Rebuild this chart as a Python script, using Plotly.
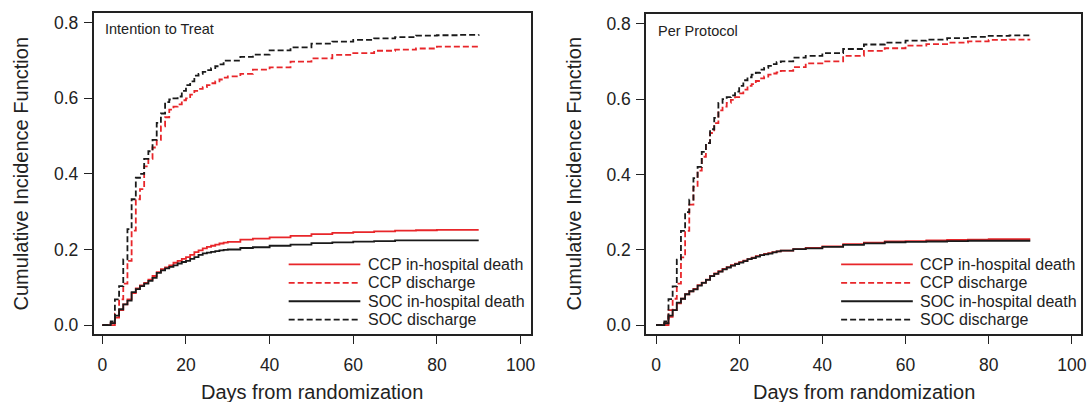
import plotly.graph_objects as go

# ---------------- data ----------------
days = [0, 1, 2, 3, 4, 5, 6, 7, 8, 9, 10, 11, 12, 13, 14, 15, 16, 17, 18, 19, 20,
        21, 22, 23, 24, 25, 26, 27, 28, 29, 30, 33, 36, 40, 45, 50, 55, 60, 65,
        70, 75, 80, 85, 90]

# Intention to Treat
itt_ccp_death = [0, 0, 0.005, 0.02, 0.04, 0.055, 0.068, 0.085, 0.097, 0.105, 0.112,
                 0.12, 0.13, 0.14, 0.148, 0.153, 0.158, 0.165, 0.17, 0.175, 0.18,
                 0.186, 0.193, 0.198, 0.203, 0.207, 0.21, 0.213, 0.216, 0.218, 0.22,
                 0.226, 0.229, 0.232, 0.236, 0.241, 0.244, 0.246, 0.248, 0.25, 0.251,
                 0.252, 0.252, 0.252]
itt_ccp_discharge = [0, 0, 0, 0.03, 0.068, 0.11, 0.17, 0.25, 0.333, 0.36, 0.42,
                     0.44, 0.47, 0.49, 0.526, 0.55, 0.57, 0.578, 0.584, 0.595, 0.60,
                     0.61, 0.62, 0.625, 0.63, 0.635, 0.64, 0.645, 0.65, 0.655, 0.658,
                     0.665, 0.676, 0.682, 0.697, 0.706, 0.715, 0.72, 0.726, 0.729,
                     0.732, 0.737, 0.737, 0.737]
itt_soc_death = [0, 0, 0.005, 0.025, 0.042, 0.055, 0.065, 0.087, 0.095, 0.103, 0.11,
                 0.117, 0.125, 0.138, 0.145, 0.15, 0.154, 0.158, 0.163, 0.167, 0.17,
                 0.175, 0.18, 0.186, 0.19, 0.192, 0.194, 0.196, 0.198, 0.199, 0.2,
                 0.204, 0.206, 0.21, 0.213, 0.217, 0.219, 0.221, 0.222, 0.224, 0.224,
                 0.224, 0.224, 0.224]
itt_soc_discharge = [0, 0, 0.01, 0.068, 0.103, 0.174, 0.254, 0.333, 0.39, 0.40, 0.44,
                     0.46, 0.49, 0.535, 0.56, 0.59, 0.597, 0.60, 0.605, 0.62, 0.635,
                     0.645, 0.66, 0.665, 0.67, 0.675, 0.68, 0.685, 0.69, 0.70, 0.70,
                     0.71, 0.716, 0.727, 0.735, 0.745, 0.75, 0.755, 0.759, 0.762,
                     0.766, 0.767, 0.768, 0.769]

# Per Protocol
pp_ccp_death = [0, 0, 0.005, 0.022, 0.04, 0.058, 0.07, 0.082, 0.09, 0.096, 0.106,
                0.113, 0.121, 0.131, 0.137, 0.143, 0.149, 0.154, 0.159, 0.163, 0.167,
                0.171, 0.175, 0.179, 0.183, 0.186, 0.189, 0.191, 0.194, 0.196, 0.198,
                0.202, 0.205, 0.209, 0.215, 0.219, 0.222, 0.223, 0.225, 0.226, 0.227,
                0.228, 0.228, 0.228]
pp_ccp_discharge = [0, 0, 0, 0.04, 0.07, 0.11, 0.18, 0.25, 0.32, 0.367, 0.41, 0.447,
                    0.483, 0.51, 0.536, 0.57, 0.58, 0.59, 0.598, 0.605, 0.615, 0.625,
                    0.635, 0.64, 0.648, 0.655, 0.66, 0.665, 0.668, 0.671, 0.675,
                    0.685, 0.695, 0.70, 0.715, 0.728, 0.735, 0.742, 0.746, 0.75,
                    0.753, 0.757, 0.758, 0.758]
pp_soc_death = [0, 0, 0.005, 0.025, 0.04, 0.06, 0.07, 0.082, 0.09, 0.095, 0.105,
                0.112, 0.12, 0.13, 0.136, 0.142, 0.148, 0.153, 0.158, 0.162, 0.166,
                0.17, 0.175, 0.178, 0.182, 0.186, 0.188, 0.19, 0.193, 0.196, 0.198,
                0.202, 0.204, 0.208, 0.213, 0.217, 0.22, 0.221, 0.222, 0.223, 0.224,
                0.224, 0.224, 0.224]
pp_soc_discharge = [0, 0, 0.01, 0.069, 0.103, 0.174, 0.25, 0.30, 0.333, 0.39, 0.42,
                    0.46, 0.483, 0.52, 0.55, 0.59, 0.60, 0.605, 0.61, 0.62, 0.635,
                    0.65, 0.658, 0.665, 0.67, 0.678, 0.683, 0.688, 0.693, 0.698, 0.70,
                    0.71, 0.715, 0.722, 0.733, 0.745, 0.75, 0.755, 0.758, 0.762,
                    0.765, 0.768, 0.769, 0.769]

series_names = ["CCP in-hospital death", "CCP discharge",
                "SOC in-hospital death", "SOC discharge"]
panel_titles = ["Intention to Treat", "Per Protocol"]
x_ticks = [0, 20, 40, 60, 80, 100]
y_ticks = [0.0, 0.2, 0.4, 0.6, 0.8]
y_tick_text = ["0.0", "0.2", "0.4", "0.6", "0.8"]
x_title = "Days from randomization"
y_title = "Cumulative Incidence Function"

# ---------------- styling ----------------
RED = "#e8262a"
BLACK = "#1a1a1a"
FONT = "Arial, Liberation Sans, sans-serif"
styles = [dict(color=RED, width=1.8, dash="solid"),
          dict(color=RED, width=1.8, dash="6px,3px"),
          dict(color=BLACK, width=1.8, dash="solid"),
          dict(color=BLACK, width=1.8, dash="6px,3px")]

W, H = 1090, 402
def px(x):
    return x / W
def py(y):
    return 1 - y / H

panels = [
    dict(data=[itt_ccp_death, itt_ccp_discharge, itt_soc_death, itt_soc_discharge],
         xdom=[px(94), px(533)], ydom=[py(335), py(13)], xr=[-2.1, 102.4],
         title_x=103, title_y=29, leg_x0=290, leg_x1=362, leg_tx=368,
         ytitle_x=21),
    dict(data=[pp_ccp_death, pp_ccp_discharge, pp_soc_death, pp_soc_discharge],
         xdom=[px(649), px(1086)], ydom=[py(335), py(14)], xr=[-2.4, 102.2],
         title_x=659, title_y=31, leg_x0=845, leg_x1=917, leg_tx=922,
         ytitle_x=577),
]

fig = go.Figure()
annotations = []
shapes = []
leg_rows = [265, 283.5, 302, 320.5]

for i, p in enumerate(panels):
    xa = "x" if i == 0 else "x2"
    ya = "y" if i == 0 else "y2"
    for vals, name, st in zip(p["data"], series_names, styles):
        fig.add_trace(go.Scatter(x=days, y=vals, mode="lines", name=name,
                                 line=dict(shape="hv", **st), xaxis=xa, yaxis=ya,
                                 showlegend=False))
    axis_common = dict(showline=True, linecolor="#222", linewidth=1.6, mirror=True,
                       ticks="outside", ticklen=8, tickwidth=1.4, tickcolor="#222",
                       showgrid=False, zeroline=False,
                       tickfont=dict(family=FONT, size=17.5, color="#222"))
    fig.layout[("xaxis" if i == 0 else "xaxis2")] = dict(
        domain=p["xdom"], range=p["xr"], tickvals=x_ticks, anchor=ya,
        ticklabelstandoff=6, **axis_common)
    fig.layout[("yaxis" if i == 0 else "yaxis2")] = dict(
        domain=p["ydom"], range=[-0.024, 0.826], tickvals=y_ticks,
        ticktext=y_tick_text, anchor=xa, ticklabelstandoff=2, **axis_common)

    # panel label
    annotations.append(dict(text=panel_titles[i], xref="paper", yref="paper",
                            x=px(p["title_x"]), y=py(p["title_y"]), xanchor="left",
                            yanchor="middle", showarrow=False,
                            font=dict(family=FONT, size=14.5, color="#222")))
    # axis titles
    annotations.append(dict(text=x_title, xref="paper", yref="paper",
                            x=(p["xdom"][0] + p["xdom"][1]) / 2, y=py(393),
                            xanchor="center", yanchor="middle", showarrow=False,
                            font=dict(family=FONT, size=20, color="#222")))
    annotations.append(dict(text=y_title, xref="paper", yref="paper",
                            x=px(p["ytitle_x"]), y=(p["ydom"][0] + p["ydom"][1]) / 2,
                            xanchor="center", yanchor="middle", textangle=-90,
                            showarrow=False,
                            font=dict(family=FONT, size=20, color="#222")))
    # legend (no border)
    for row, name, st in zip(leg_rows, series_names, styles):
        shapes.append(dict(type="line", xref="paper", yref="paper",
                           x0=px(p["leg_x0"]), x1=px(p["leg_x1"]),
                           y0=py(row), y1=py(row),
                           line=dict(color=st["color"], width=1.8,
                                     dash=st["dash"])))
        annotations.append(dict(text=name, xref="paper", yref="paper",
                                x=px(p["leg_tx"]), y=py(row), xanchor="left",
                                yanchor="middle", showarrow=False,
                                font=dict(family=FONT, size=16, color="#222")))

fig.update_layout(width=W, height=H, margin=dict(l=0, r=0, t=0, b=0),
                  paper_bgcolor="white", plot_bgcolor="white",
                  annotations=annotations, shapes=shapes,
                  font=dict(family=FONT))
fig.write_html("out.html", config={"displayModeBar": False},
               post_script="document.body.style.margin='0';"
                           "document.body.style.overflow='hidden';")
